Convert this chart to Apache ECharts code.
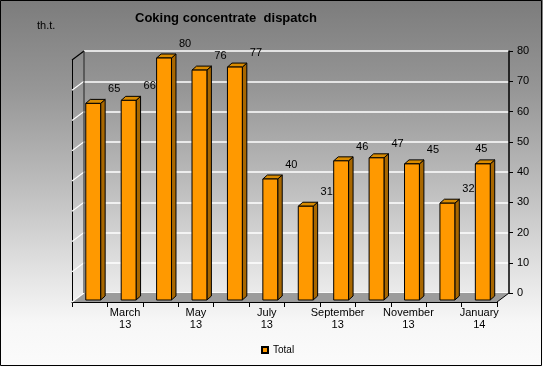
<!DOCTYPE html>
<html>
<head>
<meta charset="utf-8">
<script src="https://cdn.jsdelivr.net/npm/echarts@6/dist/echarts.min.js"></script>
<style>
html,body{margin:0;padding:0;background:#fff;}
#c{width:543px;height:367px;}
</style>
</head>
<body>
<div id="c"></div>
<script>
const categories = ['February\n13','March\n13','April\n13','May\n13','June\n13','July\n13','August\n13','September\n13','October\n13','November\n13','December\n13','January\n14'];
const totalValues = [65, 66, 80, 76, 77, 40, 31, 46, 47, 45, 32, 45];
const seriesName = 'Total';
const yMin = 0, yMax = 80, yStep = 10;
const titleText = 'Coking concentrate  dispatch';
const unitText = 'th.t.';

const FONT = "'Liberation Sans', Arial, sans-serif";
const DEPTH = [-12, 9];      // back wall -> front plane
const BAR_SHIFT = [-8.5, 7]; // back wall -> bar front face
const BAR_D = [4.5, -4];     // bar depth

const chart = echarts.init(document.getElementById('c'), null, {renderer: 'canvas'});

const barData = totalValues.map((v, i) => [i, v]);
const tickVals = [];
for (let v = yMin; v <= yMax; v += yStep) tickVals.push(v);

const option = {
  animation: false,
  backgroundColor: {
    type: 'linear', x: 0, y: 0, x2: 0, y2: 1,
    colorStops: [
      {offset: 0, color: '#7c7c7c'},
      {offset: 0.25, color: '#979797'},
      {offset: 0.5, color: '#bcbcbc'},
      {offset: 0.75, color: '#e4e4e4'},
      {offset: 0.88, color: '#f7f7f7'},
      {offset: 1, color: '#fbfbfb'}
    ]
  },
  textStyle: {fontFamily: FONT},
  title: {
    text: titleText, left: 135, top: 12, padding: 0,
    textStyle: {fontFamily: FONT, fontSize: 13, fontWeight: 'bold', color: '#000'}
  },
  graphic: [
    {type: 'text', left: 37, top: 20, style: {text: unitText, font: '11px ' + FONT, fill: '#000'}, z: 10},
    {type: 'rect', shape: {x: 0.5, y: 0.5, width: 541, height: 365}, style: {fill: 'none', stroke: '#000', lineWidth: 1}, z: 100, silent: true}
  ],
  legend: {
    data: [seriesName], left: 261, top: 345, padding: 0,
    icon: 'rect', itemWidth: 6, itemHeight: 6,
    textStyle: {fontFamily: FONT, fontSize: 10, color: '#000'}
  },
  grid: [
    {left: 84, top: 51, width: 425, height: 242},
    {left: 84 + DEPTH[0], top: 51 + DEPTH[1], width: 425, height: 242}
  ],
  xAxis: [
    {gridIndex: 0, type: 'category', data: categories, show: false},
    {
      gridIndex: 1, type: 'category', data: categories,
      axisLine: {show: true, lineStyle: {color: '#000', width: 1}},
      axisTick: {show: true, interval: 0, length: 5, lineStyle: {color: '#000'}},
      axisLabel: {
        interval: (i) => i % 2 === 1, margin: 5,
        fontFamily: FONT, fontSize: 11, lineHeight: 12, color: '#000'
      },
      splitLine: {show: false}
    }
  ],
  yAxis: [
    {
      gridIndex: 0, type: 'value', position: 'right', min: yMin, max: yMax, interval: yStep,
      axisLine: {show: true, lineStyle: {color: '#000', width: 1.5}},
      axisTick: {show: true, length: 4, lineStyle: {color: '#000'}},
      axisLabel: {margin: 8, fontFamily: FONT, fontSize: 11, color: '#000'},
      splitLine: {show: true, lineStyle: {color: '#ffffff', width: 1.5}}
    },
    {
      gridIndex: 1, type: 'value', min: yMin, max: yMax, interval: yStep,
      axisLine: {show: true, lineStyle: {color: '#000', width: 1}},
      axisTick: {show: false}, axisLabel: {show: false}, splitLine: {show: false}
    }
  ],
  series: [
    {
      type: 'custom', name: 'walls', xAxisIndex: 0, yAxisIndex: 0, z: 1,
      silent: true, data: [[0, 0]],
      renderItem: function (params, api) {
        const cs = params.coordSys;
        const x = cs.x, y = cs.y, w = cs.width, h = cs.height;
        const dx = DEPTH[0], dy = DEPTH[1];
        const ch = [];
        ch.push({type: 'polygon', shape: {points: [[x, y + h], [x + w, y + h], [x + w + dx, y + h + dy], [x + dx, y + h + dy]]},
          style: {fill: '#9c9c9c', stroke: null}});
        tickVals.forEach(v => {
          const yy = api.coord([0, v])[1];
          ch.push({type: 'line', shape: {x1: x, y1: yy, x2: x + dx, y2: yy + dy}, style: {stroke: v === yMax ? '#000' : '#fff', lineWidth: 1.2}});
        });
        ch.push({type: 'line', shape: {x1: x, y1: y, x2: x, y2: y + h}, style: {stroke: '#222', lineWidth: 1}});
        ch.push({type: 'line', shape: {x1: x + w, y1: y + h, x2: x + w + dx, y2: y + h + dy}, style: {stroke: '#000', lineWidth: 1}});
        return {type: 'group', children: ch};
      }
    },
    {
      type: 'custom', name: seriesName, xAxisIndex: 0, yAxisIndex: 0, z: 5,
      itemStyle: {color: '#ff9900', borderColor: '#000', borderWidth: 1},
      data: barData,
      renderItem: function (params, api) {
        const i = api.value(0), v = api.value(1);
        const top = api.coord([i, v]);
        const base = api.coord([i, 0]);
        const band = api.size([1, 0])[0];
        const bw = band * 0.42;
        const cx = top[0] + BAR_SHIFT[0];
        const ty = top[1] + BAR_SHIFT[1];
        const by = base[1] + BAR_SHIFT[1];
        const x0 = cx - bw / 2, x1 = cx + bw / 2;
        const dx = BAR_D[0], dy = BAR_D[1];
        const stroke = {stroke: '#000', lineWidth: 1};
        const last = i === totalValues.length - 1;
        return {
          type: 'group',
          children: [
            {type: 'polygon', shape: {points: [[x1, ty], [x1 + dx, ty + dy], [x1 + dx, by + dy], [x1, by]]},
              style: Object.assign({fill: '#a86700'}, stroke)},
            {type: 'polygon', shape: {points: [[x0, ty], [x0 + dx, ty + dy], [x1 + dx, ty + dy], [x1, ty]]},
              style: Object.assign({fill: '#d98b00'}, stroke)},
            {type: 'rect', shape: {x: x0, y: ty, width: bw, height: by - ty},
              style: Object.assign({fill: '#ff9900'}, stroke)},
            {type: 'text', x: cx + (last ? -1.5 : 21), y: ty - (last ? 15 : 14),
              style: {text: String(v), font: '11px ' + FONT, fill: '#000', align: 'center', verticalAlign: 'middle'}}
          ]
        };
      }
    }
  ]
};
chart.setOption(option);
</script>
</body>
</html>
